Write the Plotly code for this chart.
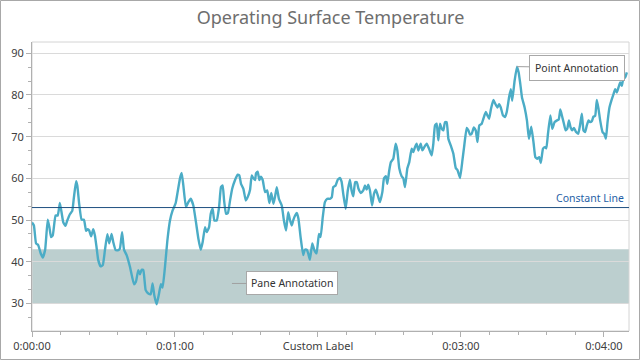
import plotly.graph_objects as go

# ---- data (seconds, °C) ----
seconds = [0.0, 0.8, 1.7, 2.6, 3.6, 4.5, 5.5, 6.6, 7.3, 8.0, 8.7, 9.9, 10.8, 11.7, 12.5, 13.1, 14.0, 14.8,
           15.9, 16.9, 17.6, 18.5, 19.0, 19.8, 20.8, 21.8, 22.7, 23.4, 24.0, 24.8, 25.7, 26.4, 27.1, 27.8,
           28.8, 29.7, 30.6, 31.6, 32.4, 33.4, 34.1, 35.1, 36.2, 36.9, 37.8, 38.6, 39.7, 41.1, 42.8, 43.6,
           44.6, 45.3, 46.0, 46.7, 47.7, 48.8, 49.8, 50.6, 51.3, 52.3, 53.3, 54.1, 54.8, 55.8, 56.8, 57.9,
           59.0, 60.3, 61.1, 62.1, 62.8, 63.5, 64.6, 65.6, 66.6, 67.7, 68.8, 69.8, 70.8, 71.6, 72.6, 73.3,
           74.3, 75.0, 75.8, 76.5, 77.5, 78.5, 79.3, 80.0, 80.6, 81.4, 82.2, 83.1, 84.0, 85.2, 86.3, 87.0,
           87.7, 88.7, 89.7, 90.5, 91.5, 92.2, 92.9, 93.6, 94.0, 94.7, 95.4, 96.0, 96.8, 97.8, 98.7, 99.6,
           100.4, 101.3, 102.0, 102.7, 103.6, 104.8, 105.7, 106.6, 107.5, 108.3, 109.0, 109.6, 110.4, 111.1,
           111.8, 112.7, 113.8, 114.5, 115.3, 115.9, 116.6, 117.6, 118.4, 119.4, 120.4, 121.1, 122.0, 122.9,
           123.9, 125.0, 125.8, 126.4, 127.4, 128.3, 129.2, 129.9, 130.6, 131.6, 132.5, 133.4, 134.1, 134.8,
           135.6, 136.3, 137.0, 138.0, 139.0, 139.7, 140.4, 141.1, 141.8, 142.7, 143.5, 144.3, 145.3, 146.0,
           147.0, 147.7, 148.5, 149.1, 149.9, 150.6, 151.6, 152.6, 153.3, 154.1, 155.1, 155.8, 156.5, 157.5,
           158.3, 159.3, 160.0, 160.7, 161.4, 162.1, 163.1, 163.8, 164.6, 165.6, 166.6, 167.7, 168.4, 169.1,
           169.8, 170.5, 171.2, 171.9, 172.6, 173.3, 174.0, 174.7, 175.7, 176.8, 177.8, 178.6, 179.6, 180.6,
           181.3, 182.4, 183.1, 183.8, 184.5, 185.4, 186.2, 186.9, 187.7, 188.7, 189.4, 190.4, 191.1, 191.8,
           192.6, 193.6, 194.3, 195.3, 196.0, 196.7, 197.6, 198.5, 199.2, 200.2, 200.9, 201.5, 202.5, 203.5,
           204.2, 204.9, 205.6, 206.7, 207.7, 208.5, 209.5, 210.5, 211.2, 212.0, 212.8, 213.5, 214.4, 215.1,
           215.8, 216.5, 217.5, 218.3, 219.3, 220.3, 221.0, 221.7, 222.5, 223.2, 223.9, 224.6, 225.3, 226.0,
           226.7, 227.4, 228.3, 229.2, 230.0, 230.7, 231.4, 232.1, 232.8, 233.5, 234.2, 234.9, 235.6, 236.3,
           237.0, 237.7, 238.4, 239.4, 240.1, 240.8, 241.5, 242.3, 243.3, 244.0, 244.7, 245.4, 246.1, 246.8,
           247.5, 248.2, 248.9, 249.6]
temperature = [49.4, 48.7, 44.4, 44.0, 42.1, 41.0, 42.8, 50.1, 48.3, 45.9, 46.3, 51.1, 51.1, 54.1, 51.5, 49.5,
               48.6, 49.9, 51.4, 52.2, 55.5, 59.3, 58.3, 53.9, 50.1, 50.1, 47.4, 47.8, 47.5, 46.1, 47.8, 46.3,
               43.4, 40.4, 38.9, 39.2, 42.8, 46.6, 44.4, 46.7, 44.7, 42.8, 42.8, 43.2, 47.1, 42.9, 41.6, 38.8,
               34.6, 35.2, 38.0, 37.0, 38.1, 38.0, 33.2, 32.4, 32.2, 34.8, 32.0, 29.8, 32.4, 34.6, 33.8, 38.8,
               45.1, 49.9, 52.3, 54.1, 56.7, 60.0, 61.3, 58.3, 53.1, 54.3, 55.1, 53.5, 49.5, 45.6, 42.9, 44.7,
               48.3, 47.1, 48.3, 51.5, 52.7, 49.9, 49.9, 53.1, 57.9, 58.3, 54.7, 51.5, 51.7, 54.7, 57.5, 59.6,
               60.9, 60.7, 58.7, 57.5, 54.7, 55.5, 57.3, 60.7, 60.0, 59.6, 61.2, 61.6, 59.6, 60.4, 59.6, 56.7,
               57.1, 54.1, 56.5, 53.9, 55.7, 57.9, 55.1, 53.5, 49.9, 47.5, 51.9, 49.9, 48.7, 49.9, 51.1, 51.7,
               50.3, 45.9, 41.6, 42.9, 42.9, 42.0, 40.5, 44.4, 42.9, 42.0, 46.7, 45.9, 50.7, 54.3, 55.1, 55.1,
               55.5, 57.9, 58.3, 59.7, 60.1, 59.2, 56.3, 52.7, 57.1, 59.7, 57.1, 55.7, 59.1, 59.1, 57.5, 56.5,
               57.1, 58.3, 57.3, 58.5, 57.1, 53.5, 56.3, 57.3, 55.5, 54.3, 56.7, 60.0, 60.5, 58.7, 61.9, 63.9,
               64.7, 68.3, 66.7, 62.4, 60.5, 60.0, 57.9, 62.4, 63.9, 67.1, 66.3, 67.5, 68.3, 66.7, 68.3, 66.7,
               67.5, 68.3, 67.1, 65.5, 68.3, 72.7, 73.1, 69.1, 73.1, 71.9, 71.5, 73.5, 73.5, 69.5, 67.9, 65.9,
               62.5, 61.9, 60.1, 64.3, 67.5, 72.1, 71.5, 70.5, 70.7, 72.2, 71.5, 68.7, 72.7, 73.1, 74.3, 75.9,
               75.1, 74.3, 76.7, 78.8, 78.0, 77.0, 77.8, 77.0, 75.1, 74.7, 75.9, 79.5, 81.4, 78.6, 83.4, 86.8,
               85.4, 82.6, 79.4, 77.0, 73.8, 69.5, 72.4, 68.3, 65.1, 64.7, 65.1, 63.7, 67.1, 67.5, 67.2, 70.7,
               75.1, 71.9, 73.5, 73.9, 74.1, 76.5, 74.7, 73.1, 71.5, 71.9, 73.9, 72.2, 71.5, 72.1, 71.1, 70.7,
               72.9, 75.5, 71.5, 71.1, 72.7, 73.9, 73.5, 73.7, 74.8, 75.0, 78.8, 76.7, 73.9, 71.1, 70.7, 69.5,
               73.5, 77.0, 79.0, 80.2, 81.4, 80.6, 81.8, 83.0, 82.2, 84.2, 84.2, 85.4]

x_tick_values = [0, 60, 120, 180, 240]
x_tick_labels = ["0:00:00", "0:01:00", "Custom Label", "0:03:00", "0:04:00"]

constant_line_value = 53
strip_min, strip_max = 30, 43
point_annotation_t, point_annotation_v = 203.5, 86.8
pane_annotation_t, pane_annotation_v = 83.9, 34.8

W, H = 640, 360
ML, MR, MT, MB = 32, 11, 42, 29
PW, PH = W - ML - MR, H - MT - MB

FONT = "Noto Sans"
AXIS_COL = "#b0b0b0"
GRID_COL = "#dadada"
TEXT_COL = "#404040"
TICK_SIZE = 11

fig = go.Figure()
fig.add_trace(go.Scatter(
    x=seconds, y=temperature, mode="lines",
    line=dict(color="#4bacc6", width=2.4, shape="spline", smoothing=0.4),
    showlegend=False, hoverinfo="skip"))

# strip (below gridlines)
fig.add_shape(type="rect", xref="paper", yref="y", x0=0, x1=1, y0=strip_min, y1=strip_max,
              fillcolor="#bccfcf", line=dict(width=0), layer="below")
# constant line
fig.add_shape(type="line", xref="paper", yref="y", x0=0, x1=1,
              y0=constant_line_value, y1=constant_line_value,
              line=dict(color="#1f4f80", width=1))
fig.add_annotation(xref="paper", yref="y", x=1, y=constant_line_value, text="Constant Line",
                   showarrow=False, xanchor="right", yanchor="bottom", xshift=-3, yshift=1,
                   font=dict(family=FONT, size=10.5, color="#1f5fa6"))
# plot-area border
fig.add_shape(type="rect", xref="paper", yref="paper", x0=0, x1=1, y0=0, y1=1,
              line=dict(color="#d4d4d4", width=1), layer="below")
# outer border
fig.add_shape(type="rect", xref="paper", yref="paper",
              x0=(-ML + 0.5) / PW, x1=1 + (MR - 0.5) / PW,
              y0=(-MB + 0.5) / PH, y1=1 + (MT - 0.5) / PH,
              line=dict(color="#a8a8a8", width=1))

# annotations
fig.add_annotation(x=point_annotation_t, y=point_annotation_v, text="Point Annotation",
                   showarrow=True, arrowhead=0, arrowwidth=1, arrowcolor="#a0a0a0",
                   ax=60, ay=1, standoff=0,
                   bgcolor="white", bordercolor="#a8a8a8", borderwidth=1, borderpad=5,
                   font=dict(family=FONT, size=10.5, color="#333333"))
fig.add_annotation(x=pane_annotation_t, y=pane_annotation_v, text="Pane Annotation",
                   showarrow=True, arrowhead=0, arrowwidth=1, arrowcolor="#a0a0a0",
                   ax=60, ay=0, standoff=0,
                   bgcolor="white", bordercolor="#a8a8a8", borderwidth=1, borderpad=4,
                   font=dict(family=FONT, size=10.5, color="#333333"))

fig.update_layout(
    width=W, height=H,
    margin=dict(l=ML, r=MR, t=MT, b=MB, autoexpand=False),
    paper_bgcolor="white", plot_bgcolor="white",
    title=dict(text="Operating Surface Temperature", x=0.5, xanchor="center", xref="paper",
               y=1 - 18 / H, yanchor="middle", yref="container",
               font=dict(family=FONT, size=18, color="#6e6e6e")),
    font=dict(family=FONT, size=TICK_SIZE, color=TEXT_COL),
    xaxis=dict(range=[0, 250.5], tickmode="array", tickvals=x_tick_values, ticktext=x_tick_labels,
               automargin=False,
               showgrid=False, zeroline=False, showline=True, linecolor=AXIS_COL, linewidth=1,
               ticks="outside", ticklen=5, tickcolor=AXIS_COL,
               minor=dict(tickmode="linear", tick0=0, dtick=12, ticks="outside", ticklen=3,
                          tickcolor=AXIS_COL, showgrid=False),
               tickfont=dict(family=FONT, size=TICK_SIZE, color=TEXT_COL)),
    yaxis=dict(range=[23.4, 92.7], tickmode="linear", tick0=0, dtick=10, automargin=False,
               showgrid=True, gridcolor=GRID_COL, gridwidth=1, zeroline=False,
               showline=True, linecolor=AXIS_COL, linewidth=1,
               ticks="outside", ticklen=5, tickcolor=AXIS_COL,
               minor=dict(tickmode="linear", tick0=0, dtick=10 / 3, ticks="outside", ticklen=3,
                          tickcolor=AXIS_COL, showgrid=False),
               tickfont=dict(family=FONT, size=TICK_SIZE, color=TEXT_COL)),
)

fig.write_html("out.html", config={"displayModeBar": False},
               post_script="document.body.style.margin='0';document.body.style.overflow='hidden';")
